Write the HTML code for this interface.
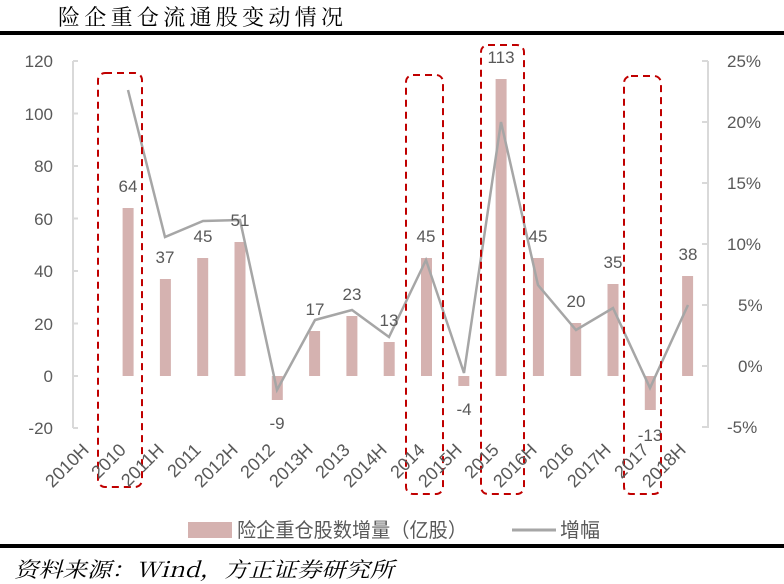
<!DOCTYPE html>
<html><head><meta charset="utf-8"><style>
body{margin:0;background:#fff;width:784px;height:584px;overflow:hidden}
svg{display:block}
text{font-family:"Liberation Sans","Noto Sans CJK SC",sans-serif;fill:#595959}
</style></head><body>
<svg width="784" height="584" viewBox="0 0 784 584" xmlns="http://www.w3.org/2000/svg">
<text x="58" y="25" textLength="285" lengthAdjust="spacing" style="font-family:'Noto Serif CJK SC',serif;font-size:22px;fill:#000">险企重仓流通股变动情况</text>
<rect x="0" y="31" width="784" height="4" fill="#000"/>
<rect x="0" y="544" width="784" height="4" fill="#000"/>
<text x="14" y="577" textLength="380" lengthAdjust="spacingAndGlyphs" style="font-family:'Noto Serif CJK SC',serif;font-size:21px;fill:#000;font-style:italic">资料来源：Wind，方正证券研究所</text>
<g stroke="#d9d9d9" stroke-width="2">
<line x1="73" y1="61" x2="73" y2="428"/>
<line x1="708" y1="61" x2="708" y2="428"/>
<line x1="73" y1="61" x2="78" y2="61"/><line x1="73" y1="113.5" x2="78" y2="113.5"/><line x1="73" y1="166" x2="78" y2="166"/><line x1="73" y1="218.5" x2="78" y2="218.5"/><line x1="73" y1="271" x2="78" y2="271"/><line x1="73" y1="323.5" x2="78" y2="323.5"/><line x1="73" y1="376" x2="78" y2="376"/><line x1="73" y1="428" x2="78" y2="428"/>
<line x1="702" y1="61" x2="708" y2="61"/><line x1="702" y1="122" x2="708" y2="122"/><line x1="702" y1="183" x2="708" y2="183"/><line x1="702" y1="244" x2="708" y2="244"/><line x1="702" y1="305" x2="708" y2="305"/><line x1="702" y1="366" x2="708" y2="366"/><line x1="702" y1="427" x2="708" y2="427"/>
</g>
<g font-size="17" text-anchor="end">
<text x="53" y="67">120</text><text x="53" y="120">100</text><text x="53" y="172">80</text><text x="53" y="225">60</text><text x="53" y="277">40</text><text x="53" y="330">20</text><text x="53" y="382">0</text><text x="53" y="434">-20</text>
</g>
<g font-size="17" text-anchor="start">
<text x="727" y="67">25%</text><text x="727" y="128">20%</text><text x="727" y="189">15%</text><text x="727" y="250">10%</text><text x="738" y="311">5%</text><text x="738" y="372">0%</text><text x="727" y="433">-5%</text>
</g>
<g fill="#d5b2b0">
<rect x="122.6" y="208" width="11" height="168"/>
<rect x="159.9" y="279" width="11" height="97"/>
<rect x="197.2" y="258" width="11" height="118"/>
<rect x="234.5" y="242" width="11" height="134"/>
<rect x="271.8" y="376" width="11" height="24"/>
<rect x="309.1" y="331" width="11" height="45"/>
<rect x="346.4" y="316" width="11" height="60"/>
<rect x="383.7" y="342" width="11" height="34"/>
<rect x="421" y="258" width="11" height="118"/>
<rect x="458.3" y="376" width="11" height="10"/>
<rect x="495.6" y="79" width="11" height="297"/>
<rect x="532.9" y="258" width="11" height="118"/>
<rect x="570.2" y="323" width="11" height="53"/>
<rect x="607.5" y="284" width="11" height="92"/>
<rect x="644.8" y="376" width="11" height="34"/>
<rect x="682.1" y="276" width="11" height="100"/>
</g>
<polyline fill="none" stroke="#a6a6a6" stroke-width="2.5" points="128,90 165,237 203,221 240,220 277,390 315,320 352,310 389,337 426,260 464,373 501,122 538,285 576,330 613,308 650,388 688,305"/>
<g font-size="17" text-anchor="middle">
<text x="128" y="192">64</text><text x="165" y="263">37</text><text x="203" y="242">45</text><text x="240" y="226">51</text><text x="277" y="429">-9</text><text x="315" y="315">17</text><text x="352" y="300">23</text><text x="389" y="326">13</text><text x="426" y="242">45</text><text x="464" y="415">-4</text><text x="501" y="63">113</text><text x="538" y="242">45</text><text x="576" y="307">20</text><text x="613" y="268">35</text><text x="650" y="441">-13</text><text x="688" y="260">38</text>
</g>
<g fill="none" stroke="#c00000" stroke-width="2" stroke-dasharray="7,5">
<rect x="98" y="73" width="44" height="414" rx="7"/>
<rect x="406" y="75" width="37" height="419" rx="7"/>
<rect x="481" y="45" width="43" height="449" rx="7"/>
<rect x="624" y="76" width="37" height="418" rx="7"/>
</g>
<g font-size="18" text-anchor="end">
<text transform="translate(90,451) rotate(-45)">2010H</text>
<text transform="translate(127,451) rotate(-45)">2010</text>
<text transform="translate(165,451) rotate(-45)">2011H</text>
<text transform="translate(202,451) rotate(-45)">2011</text>
<text transform="translate(239,451) rotate(-45)">2012H</text>
<text transform="translate(276,451) rotate(-45)">2012</text>
<text transform="translate(314,451) rotate(-45)">2013H</text>
<text transform="translate(351,451) rotate(-45)">2013</text>
<text transform="translate(388,451) rotate(-45)">2014H</text>
<text transform="translate(426,451) rotate(-45)">2014</text>
<text transform="translate(463,451) rotate(-45)">2015H</text>
<text transform="translate(500,451) rotate(-45)">2015</text>
<text transform="translate(538,451) rotate(-45)">2016H</text>
<text transform="translate(575,451) rotate(-45)">2016</text>
<text transform="translate(612,451) rotate(-45)">2017H</text>
<text transform="translate(650,451) rotate(-45)">2017</text>
<text transform="translate(687,451) rotate(-45)">2018H</text>
</g>
<rect x="188" y="522" width="44" height="16" fill="#d5b2b0"/>
<text x="237" y="537" font-size="20" textLength="230" lengthAdjust="spacingAndGlyphs">险企重仓股数增量（亿股）</text>
<line x1="512" y1="530" x2="556" y2="530" stroke="#a6a6a6" stroke-width="3"/>
<text x="560" y="537" font-size="20" textLength="40" lengthAdjust="spacingAndGlyphs">增幅</text>
</svg>
</body></html>
